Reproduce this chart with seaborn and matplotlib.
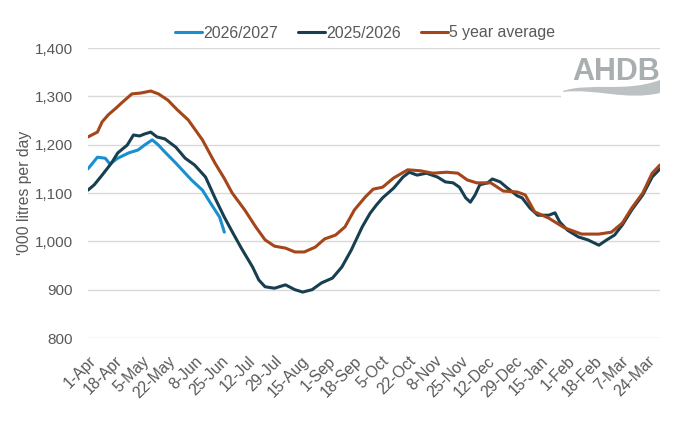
import matplotlib.pyplot as plt
import pandas as pd
import seaborn as sns
from matplotlib.path import Path
from matplotlib.patches import PathPatch, Rectangle

# days since 1 April, values in '000 litres per day
avg_days = [0, 6, 9, 13, 18, 22, 28, 34, 40, 45, 51, 57, 64, 73, 81, 87, 92,
            100, 107, 113, 119, 126, 132, 138, 145, 151, 158, 164, 170, 177,
            182, 188, 195, 204, 212, 220, 229, 236, 242, 248, 257, 265, 274,
            279, 285, 294, 304, 315, 326, 334, 341, 347, 354, 360, 365]
avg_vals = [1216, 1226, 1247, 1262, 1276, 1288, 1305, 1307, 1311, 1305, 1292,
            1272, 1251, 1210, 1162, 1130, 1100, 1065, 1030, 1003, 990, 986,
            978, 978, 988, 1005, 1013, 1030, 1065, 1092, 1108, 1112, 1131,
            1148, 1146, 1141, 1143, 1141, 1127, 1121, 1121, 1104, 1102, 1096,
            1061, 1048, 1028, 1015, 1015, 1019, 1038, 1069, 1100, 1141, 1158]

prev_days = [0, 4, 9, 15, 19, 25, 29, 33, 36, 40, 44, 49, 56, 62, 68, 75, 81,
             87, 92, 98, 105, 109, 113, 119, 126, 132, 137, 143, 149, 156, 162,
             168, 175, 180, 184, 188, 195, 201, 205, 210, 216, 223, 228, 233,
             237, 241, 244, 247, 250, 255, 258, 263, 267, 274, 277, 282, 287,
             294, 298, 301, 306, 313, 319, 326, 331, 336, 341, 347, 354, 360,
             365]
prev_vals = [1106, 1117, 1137, 1162, 1183, 1199, 1220, 1218, 1222, 1226, 1216,
             1212, 1195, 1172, 1158, 1133, 1090, 1050, 1020, 985, 947, 920,
             906, 903, 910, 900, 895, 900, 914, 924, 947, 982, 1030, 1058,
             1075, 1090, 1110, 1133, 1143, 1137, 1141, 1133, 1123, 1121, 1112,
             1090, 1081, 1096, 1117, 1121, 1129, 1123, 1112, 1094, 1090, 1069,
             1054, 1054, 1059, 1040, 1023, 1009, 1003, 992, 1003, 1013, 1034,
             1065, 1096, 1133, 1150]

curr_days = [0, 3, 6, 11, 14, 19, 26, 32, 36, 41, 45, 49, 56, 62, 66, 73, 79,
             84, 87]
curr_vals = [1150, 1162, 1174, 1172, 1160, 1172, 1183, 1189, 1199, 1210, 1199,
             1185, 1162, 1141, 1127, 1106, 1075, 1050, 1019]

series_names = ["2026/2027", "2025/2026", "5 year average"]
series_colours = ["#1A8FD0", "#173F50", "#A4461A"]

tick_labels = ["1-Apr", "18-Apr", "5-May", "22-May", "8-Jun", "25-Jun",
               "12-Jul", "29-Jul", "15-Aug", "1-Sep", "18-Sep", "5-Oct",
               "22-Oct", "8-Nov", "25-Nov", "12-Dec", "29-Dec", "15-Jan",
               "1-Feb", "18-Feb", "7-Mar", "24-Mar"]
y_ticks = [800, 900, 1000, 1100, 1200, 1300, 1400]

TEXT = "#595959"
W, H = 680, 422


def fx(px):
    return px / W


def fy(py):
    return 1 - py / H


df = pd.concat([
    pd.DataFrame({"day": curr_days, "value": curr_vals, "series": series_names[0]}),
    pd.DataFrame({"day": prev_days, "value": prev_vals, "series": series_names[1]}),
    pd.DataFrame({"day": avg_days, "value": avg_vals, "series": series_names[2]}),
])

sns.set_theme(style="white")
plt.rcParams['font.family'] = ['Liberation Sans', 'DejaVu Sans']

fig = plt.figure(figsize=(W / 100, H / 100), dpi=100)
ax = fig.add_axes([fx(88), fy(338), fx(660 - 88), (338 - 48) / H])

sns.lineplot(data=df, x="day", y="value", hue="series", hue_order=series_names,
             palette=dict(zip(series_names, series_colours)), linewidth=2.2,
             ax=ax)

ax.set_xlim(0, 365)
ax.set_ylim(800, 1400)
ax.set_yticks(y_ticks)
ax.set_yticklabels([f"{v:,}" for v in y_ticks])
ax.set_xticks([i * 17 for i in range(len(tick_labels))])
ax.set_xticklabels(tick_labels, rotation=45, ha="right", rotation_mode="anchor")
ax.grid(axis="y", color="#D9D9D9", linewidth=1)
ax.grid(axis="x", visible=False)
ax.set_axisbelow(True)
ax.tick_params(axis="both", length=0, colors=TEXT)
ax.tick_params(axis="y", pad=11, labelsize=11)
ax.tick_params(axis="x", pad=11, labelsize=11.3)
for s in ax.spines.values():
    s.set_visible(False)
ax.set_xlabel("")
ax.set_ylabel("'000 litres per day", fontsize=11.3, color=TEXT, labelpad=2)

ax.legend(loc="center", bbox_to_anchor=(fx(365 - 88) / fx(660 - 88), 1 + 15 / 290),
          ncol=3, frameon=False, fontsize=11.4, handlelength=1.7,
          handletextpad=0.1, columnspacing=1.25, labelcolor=TEXT,
          borderaxespad=0)

# AHDB logo (white backing covers the gridline like the pasted image does)
fig.patches.append(Rectangle((fx(561), fy(101)), fx(100), 48 / H,
                             transform=fig.transFigure, facecolor="white",
                             edgecolor="none"))
fig.text(fx(660), fy(80), "AHDB", ha="right", va="baseline",
         fontsize=22, color="#A9AEB1", fontweight="bold")
verts = [(563, 91), (590, 82), (625, 93), (660, 80),
         (660, 93), (625, 101), (595, 88), (563, 92), (563, 91)]
codes = [Path.MOVETO, Path.CURVE4, Path.CURVE4, Path.CURVE4,
         Path.LINETO, Path.CURVE4, Path.CURVE4, Path.CURVE4, Path.CLOSEPOLY]
fig.patches.append(PathPatch(Path([(fx(x), fy(y)) for x, y in verts], codes),
                             transform=fig.transFigure,
                             facecolor="#BCC1C4", edgecolor="none"))

fig.savefig("out.png", dpi=100)
